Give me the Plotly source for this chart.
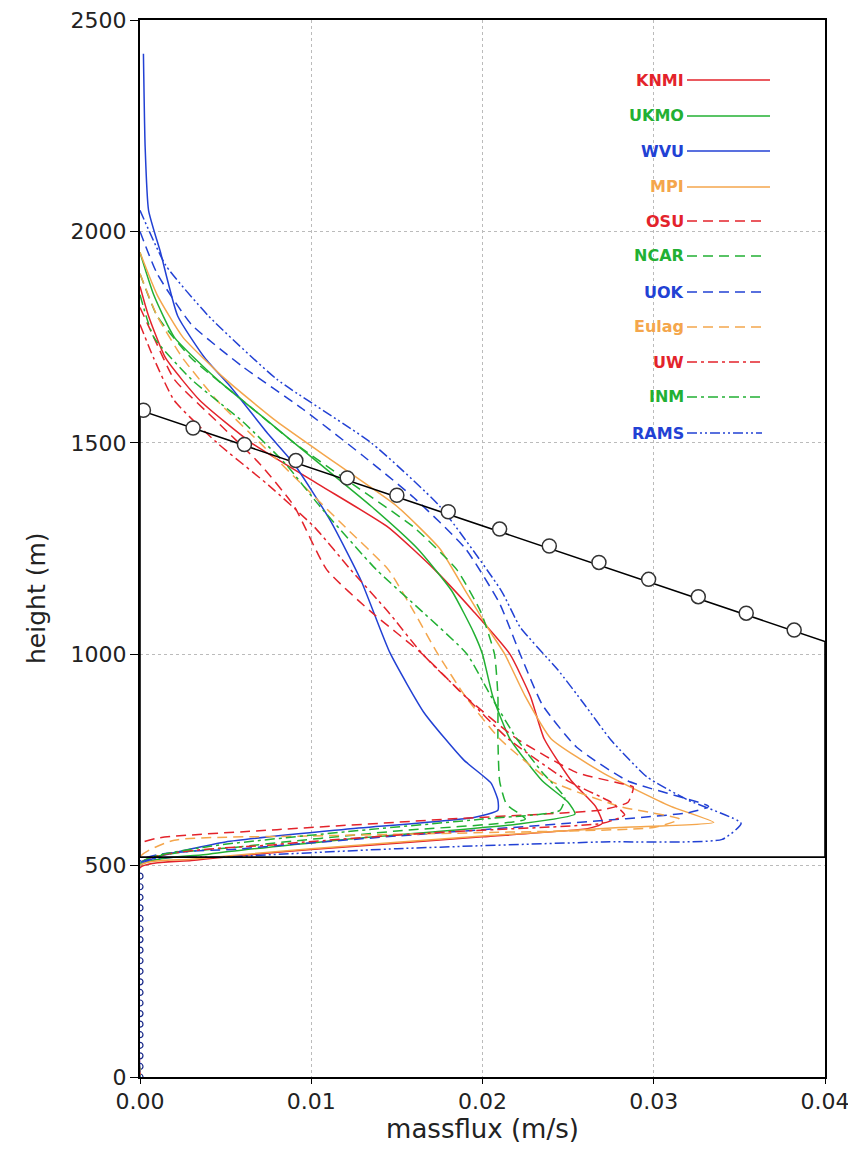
import plotly.graph_objects as go

# ---------------- data ----------------
models = ["KNMI", "UKMO", "WVU", "MPI", "OSU", "NCAR", "UOK", "Eulag", "UW", "INM", "RAMS"]
colors = ["#e3232b", "#22b033", "#2241d4", "#f4a64c",
          "#e3232b", "#22b033", "#2241d4", "#f4a64c",
          "#e3232b", "#22b033", "#2241d4"]
dashes = ["solid", "solid", "solid", "solid",
          "10px,6px", "10px,6px", "10px,6px", "10px,6px",
          "10px,4px,3px,4px", "10px,4px,3px,4px", "10px,3px,2px,3px,2px,3px"]

knmi_x = [0, 0.0005, 0.0015, 0.0035, 0.0065, 0.0105, 0.0145, 0.0172, 0.0195, 0.0216, 0.0228, 0.0236, 0.0252, 0.0266, 0.0270, 0.0262, 0.0200, 0.0100, 0.0030, 0, 0]
knmi_h = [1870, 1800, 1700, 1600, 1500, 1400, 1300, 1200, 1100, 1000, 900, 800, 700, 640, 600, 588, 568, 538, 512, 495, 0]

ukmo_x = [0, 0.0008, 0.0020, 0.0045, 0.0075, 0.0105, 0.0135, 0.0162, 0.0182, 0.0195, 0.0200, 0.0206, 0.0216, 0.0235, 0.0250, 0.0254, 0.0220, 0.0120, 0.0040, 0, 0]
ukmo_h = [1950, 1850, 1750, 1650, 1550, 1450, 1350, 1250, 1150, 1050, 1000, 900, 800, 700, 650, 622, 598, 562, 527, 500, 0]

wvu_x = [0.0002, 0.0003, 0.0005, 0.0012, 0.0022, 0.0038, 0.0053, 0.0075, 0.0090, 0.0111, 0.0129, 0.0146, 0.0166, 0.0189, 0.0205, 0.0209, 0.0209, 0.0195, 0.0120, 0.0050, 0.0010, 0, 0]
wvu_h = [2420, 2200, 2050, 1950, 1800, 1700, 1632, 1520, 1450, 1317, 1175, 1003, 861, 750, 695, 655, 631, 614, 586, 556, 520, 500, 0]

mpi_x = [0, 0.0010, 0.0025, 0.0050, 0.0080, 0.0115, 0.0150, 0.0175, 0.0190, 0.0205, 0.0213, 0.0225, 0.0240, 0.0270, 0.0310, 0.0335, 0.0280, 0.0200, 0.0100, 0.0030, 0, 0]
mpi_h = [1950, 1850, 1750, 1650, 1550, 1450, 1350, 1250, 1150, 1050, 1000, 900, 800, 720, 640, 602, 590, 570, 540, 515, 500, 0]

osu_x = [0, 0.0008, 0.0020, 0.0045, 0.0070, 0.0090, 0.0109, 0.0135, 0.0165, 0.0190, 0.0220, 0.0255, 0.0280, 0.0288, 0.0285, 0.0270, 0.0180, 0.0080, 0.0010, 0, 0]
osu_h = [1820, 1750, 1650, 1550, 1450, 1350, 1200, 1100, 1000, 900, 800, 720, 695, 686, 650, 632, 610, 585, 565, 550, 0]

ncar_x = [0, 0.0010, 0.0030, 0.0060, 0.0090, 0.0125, 0.0160, 0.0185, 0.0199, 0.0207, 0.0209, 0.0209, 0.0210, 0.0214, 0.0225, 0.0150, 0.0060, 0, 0]
ncar_h = [1900, 1800, 1700, 1600, 1500, 1400, 1300, 1200, 1100, 1000, 900, 800, 700, 645, 610, 582, 545, 505, 0]

uok_x = [0, 0.0010, 0.0030, 0.0060, 0.0095, 0.0130, 0.0160, 0.0190, 0.0210, 0.0222, 0.0235, 0.0255, 0.0285, 0.0332, 0.0320, 0.0250, 0.0150, 0.0060, 0, 0]
uok_h = [2000, 1900, 1780, 1680, 1580, 1470, 1370, 1250, 1120, 1000, 880, 780, 700, 640, 625, 600, 570, 540, 510, 0]

eulag_x = [0, 0.0010, 0.0025, 0.0045, 0.0070, 0.0095, 0.0120, 0.0145, 0.0160, 0.0174, 0.0190, 0.0210, 0.0240, 0.0280, 0.0315, 0.0300, 0.0200, 0.0100, 0.0020, 0, 0]
eulag_h = [1900, 1800, 1700, 1600, 1500, 1400, 1300, 1200, 1100, 1000, 900, 800, 700, 640, 610, 590, 578, 570, 560, 520, 0]

uw_x = [0, 0.0008, 0.0020, 0.0045, 0.0075, 0.0102, 0.0123, 0.0145, 0.0165, 0.0190, 0.0215, 0.0250, 0.0275, 0.0283, 0.0270, 0.0180, 0.0080, 0, 0]
uw_h = [1780, 1700, 1600, 1500, 1400, 1300, 1200, 1100, 1000, 900, 800, 700, 650, 620, 600, 580, 550, 505, 0]

inm_x = [0, 0.0008, 0.0030, 0.0060, 0.0085, 0.0105, 0.0138, 0.0165, 0.0191, 0.0205, 0.0220, 0.0235, 0.0248, 0.0245, 0.0200, 0.0120, 0.0040, 0, 0]
inm_h = [1850, 1750, 1650, 1550, 1450, 1350, 1200, 1100, 1000, 900, 800, 720, 660, 630, 610, 580, 545, 505, 0]

rams_x = [0, 0.0015, 0.0040, 0.0080, 0.0135, 0.0175, 0.0211, 0.0222, 0.0244, 0.0259, 0.0275, 0.0296, 0.0320, 0.0351, 0.0340, 0.0270, 0.0150, 0.0050, 0, 0]
rams_h = [2050, 1920, 1800, 1650, 1500, 1350, 1150, 1064, 963, 884, 797, 710, 655, 600, 562, 556, 540, 520, 505, 0]

model_x = [knmi_x, ukmo_x, wvu_x, mpi_x, osu_x, ncar_x, uok_x, eulag_x, uw_x, inm_x, rams_x]
model_h = [knmi_h, ukmo_h, wvu_h, mpi_h, osu_h, ncar_h, uok_h, eulag_h, uw_h, inm_h, rams_h]

# reference envelope (black)
circ_x = [0.0002, 0.0031, 0.0061, 0.0091, 0.0121, 0.0150, 0.0180, 0.0210, 0.0239, 0.0268, 0.0297, 0.0326, 0.0354, 0.0382]
circ_h = [1577, 1535, 1496, 1458, 1417, 1376, 1337, 1296, 1256, 1217, 1177, 1136, 1097, 1057]
env_x = [0.0, 0.0, 0.04, 0.04, 0.0]
env_h = [520, 1577, 1030, 520, 520]

# small markers along zero below cloud base
base_h = [0, 25, 50, 75, 100, 125, 150, 175, 200, 225, 250, 275, 300, 325, 350, 375, 400, 425, 450, 475]

x_ticks = [0.0, 0.01, 0.02, 0.03, 0.04]
y_ticks = [0, 500, 1000, 1500, 2000, 2500]

# ---------------- figure ----------------
fig = go.Figure()

fig.add_trace(go.Scatter(x=[0.0] * len(base_h), y=base_h, mode="markers",
                         marker=dict(symbol="circle-open", size=6, color="#1a2a8a", line=dict(width=1.2)),
                         showlegend=False, hoverinfo="skip"))

for name, xs, hs, c, d in zip(models, model_x, model_h, colors, dashes):
    fig.add_trace(go.Scatter(x=xs, y=hs, mode="lines", name=name,
                             line=dict(color=c, width=1.5, dash=d, shape="spline", smoothing=0.5),
                             showlegend=False))

fig.add_trace(go.Scatter(x=env_x, y=env_h, mode="lines",
                         line=dict(color="black", width=1.6), showlegend=False, hoverinfo="skip"))
fig.add_trace(go.Scatter(x=circ_x, y=circ_h, mode="markers",
                         marker=dict(symbol="circle", size=14, color="white",
                                     line=dict(color="#333333", width=1.5)),
                         showlegend=False))

# page body has an 8px margin: figure drawn at offset (8, 8)
OFF = 8
W, H = 848, 1153
L, R, T, B = 132, 31, 12, 84
pw, ph = W - L - R, H - T - B

def px_x(p):
    return (p - OFF - L) / pw

def px_y(p):
    return (H - B - (p - OFF)) / ph

leg_rows = [80, 116, 151, 187, 221, 256, 292, 327, 362, 397, 433]
for name, c, d, py in zip(models, colors, dashes, leg_rows):
    yp = px_y(py)
    fig.add_annotation(x=px_x(686), y=yp, xref="paper", yref="paper",
                       text="<b>" + name + "</b>", showarrow=False, xanchor="right", yanchor="middle",
                       font=dict(family="DejaVu Sans", size=16, color=c))
    x1 = 770 if d == "solid" else 762
    fig.add_shape(type="line", xref="paper", yref="paper",
                  x0=px_x(687), x1=px_x(x1), y0=yp, y1=yp,
                  line=dict(color=c, width=1.5, dash=d))

# y-axis title as annotation (placed like the reference)
fig.add_annotation(x=px_x(36), y=px_y(598), xref="paper", yref="paper",
                   text="height (m)", showarrow=False, textangle=-90,
                   xanchor="center", yanchor="middle",
                   font=dict(family="DejaVu Sans", size=25, color="#222222"))

axis_font = dict(family="DejaVu Sans", size=22, color="#222222")
fig.update_xaxes(range=[0, 0.04], tickvals=x_ticks, tickformat=".2f",
                 showline=True, linecolor="black", linewidth=2, mirror=True,
                 ticks="outside", ticklen=5, tickcolor="black",
                 ticklabelstandoff=-1, ticklabeloverflow="allow",
                 showgrid=True, gridcolor="#bbbbbb", griddash="dot", gridwidth=1,
                 zeroline=False, tickfont=axis_font, automargin=False,
                 title=dict(text="massflux (m/s)", font=dict(family="DejaVu Sans", size=26, color="#222222"), standoff=0))
fig.update_yaxes(range=[0, 2500], tickvals=y_ticks,
                 showline=True, linecolor="black", linewidth=2, mirror=True,
                 ticks="outside", ticklen=8, tickcolor="black",
                 ticklabelstandoff=-1, ticklabeloverflow="allow",
                 showgrid=True, gridcolor="#bbbbbb", griddash="dot", gridwidth=1,
                 zeroline=False, tickfont=axis_font, automargin=False)

fig.update_layout(width=W, height=H, margin=dict(l=L, r=R, t=T, b=B, autoexpand=False),
                  plot_bgcolor="white", paper_bgcolor="white", showlegend=False)

fig.write_html("out.html")
